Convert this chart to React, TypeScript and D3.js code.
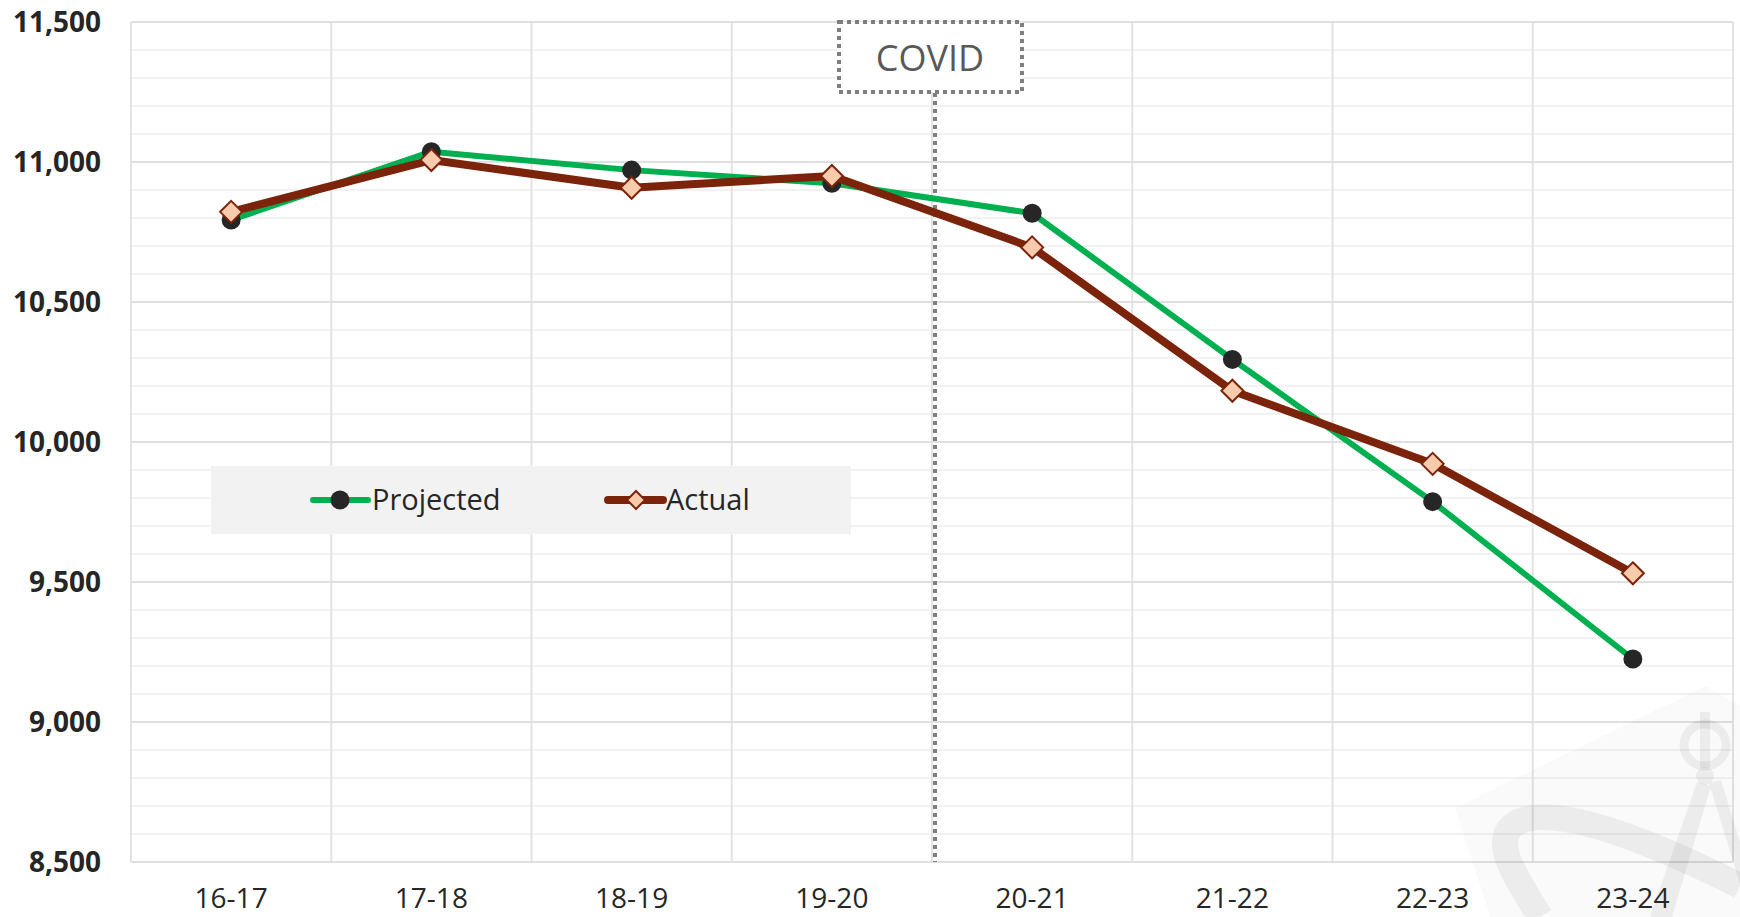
import { useEffect, useRef } from "react";
import * as d3 from "d3";

const years = ["16-17", "17-18", "18-19", "19-20", "20-21", "21-22", "22-23", "23-24"];
const projected = [10793, 11037, 10971, 10924, 10817, 10295, 9787, 9225];
const actual = [10822, 11007, 10908, 10950, 10695, 10183, 9922, 9531];
const yTicks = [8500, 9000, 9500, 10000, 10500, 11000, 11500];
const covidLabel = "COVID";
const covidAfter = "19-20";

const App = () => {
  const ref = useRef<SVGSVGElement>(null);

  useEffect(() => {
    document.body.style.margin = "0";
    const svg = d3.select(ref.current);
    svg.selectAll("*").remove();

    const width = 1740;
    const height = 917;
    const left = 131, right = 1733, top = 22, bottom = 862;
    const font = "'Open Sans', 'Noto Sans', sans-serif";

    svg.attr("width", width).attr("height", height);

    const x = d3.scaleBand().domain(years).range([left, right]);
    const y = d3.scaleLinear().domain([8500, 11500]).range([bottom, top]);

    const grid = svg.append("g");
    // minor horizontals
    grid.selectAll()
      .data(d3.range(8600, 11500, 100).filter((v) => v % 500 !== 0))
      .join("line")
      .attr("x1", left).attr("x2", right)
      .attr("y1", (d) => y(d)).attr("y2", (d) => y(d))
      .attr("stroke", "#f2f2f2").attr("stroke-width", 2);
    // vertical separators
    grid.selectAll()
      .data([...years.map((d) => x(d)!), right])
      .join("line")
      .attr("x1", (d) => d).attr("x2", (d) => d)
      .attr("y1", top).attr("y2", bottom)
      .attr("stroke", "#e3e3e3").attr("stroke-width", 2);
    // major horizontals
    grid.selectAll()
      .data(yTicks)
      .join("line")
      .attr("x1", left).attr("x2", right)
      .attr("y1", (d) => y(d)).attr("y2", (d) => y(d))
      .attr("stroke", "#e0e0e0").attr("stroke-width", 2);

    // faint watermark, semi transparent so the grid shows through
    const wm = svg.append("g");
    wm.append("path")
      .attr("d", "M1455,808 L1705,686 L1740,705 L1740,917 L1490,917 Z")
      .attr("fill", "#000").attr("fill-opacity", 0.018);
    const wmInk = wm.append("g").attr("fill", "none").attr("stroke", "#000").attr("stroke-opacity", 0.055);
    wmInk.append("path")
      .attr("d", "M1540,917 C1518,880 1492,845 1512,826 C1540,802 1625,828 1740,886")
      .attr("stroke-width", 26);
    wmInk.append("circle").attr("cx", 1705).attr("cy", 745).attr("r", 21).attr("stroke-width", 9);
    wmInk.append("line").attr("x1", 1705).attr("x2", 1705).attr("y1", 712).attr("y2", 768).attr("stroke-width", 10);
    wm.append("circle").attr("cx", 1705).attr("cy", 776).attr("r", 9)
      .attr("fill", "#000").attr("fill-opacity", 0.055);
    wm.append("path")
      .attr("d", "M1697,782 L1711,786 L1672,917 L1650,917 Z M1709,783 L1721,780 L1740,842 L1740,884 Z")
      .attr("fill", "#000").attr("fill-opacity", 0.055);

    // y labels
    svg.append("g")
      .attr("font-family", font).attr("font-size", 28).attr("font-weight", "bold")
      .attr("fill", "#262626").attr("text-anchor", "end")
      .selectAll()
      .data(yTicks)
      .join("text")
      .attr("x", 101).attr("y", (d) => y(d)).attr("dy", "0.35em")
      .text((d) => d3.format(",")(d));

    // x labels
    svg.append("g")
      .attr("font-family", font).attr("font-size", 28)
      .attr("fill", "#262626").attr("text-anchor", "middle")
      .selectAll()
      .data(years)
      .join("text")
      .attr("x", (d) => x(d)! + x.bandwidth() / 2).attr("y", 908)
      .text((d) => d);

    // covid marker
    const cx = x(covidAfter)! + x.bandwidth() + 3;
    svg.append("line")
      .attr("x1", cx).attr("x2", cx).attr("y1", 93).attr("y2", bottom)
      .attr("stroke", "#7f7f7f").attr("stroke-width", 4).attr("stroke-dasharray", "4,4");
    svg.append("rect")
      .attr("x", 839).attr("y", 22).attr("width", 183).attr("height", 70)
      .attr("fill", "white").attr("stroke", "#7f7f7f").attr("stroke-width", 4)
      .attr("stroke-dasharray", "4,4");
    svg.append("text")
      .attr("x", 930).attr("y", 58).attr("dy", "0.35em")
      .attr("text-anchor", "middle").attr("font-family", font).attr("font-size", 36)
      .attr("fill", "#595959").text(covidLabel);

    const cxp = (i: number) => x(years[i])! + x.bandwidth() / 2;
    const line = d3.line<number>().x((_, i) => cxp(i)).y((d) => y(d));

    svg.append("path").datum(projected)
      .attr("d", line).attr("fill", "none")
      .attr("stroke", "#00b050").attr("stroke-width", 6).attr("stroke-linejoin", "round");
    svg.append("g").selectAll().data(projected).join("circle")
      .attr("cx", (_, i) => cxp(i)).attr("cy", (d) => y(d)).attr("r", 9.5)
      .attr("fill", "#262626");

    svg.append("path").datum(actual)
      .attr("d", line).attr("fill", "none")
      .attr("stroke", "#7b230b").attr("stroke-width", 8).attr("stroke-linejoin", "round");
    const diamond = (cxv: number, cyv: number, r: number) =>
      `M${cxv},${cyv - r}L${cxv + r},${cyv}L${cxv},${cyv + r}L${cxv - r},${cyv}Z`;
    svg.append("g").selectAll().data(actual).join("path")
      .attr("d", (d, i) => diamond(cxp(i), y(d), 11))
      .attr("fill", "#f8cbad").attr("stroke", "#7b230b").attr("stroke-width", 2);

    // legend
    const lg = svg.append("g");
    lg.append("rect").attr("x", 211).attr("y", 466).attr("width", 640).attr("height", 68).attr("fill", "#f2f2f2");
    const ly = 500;
    lg.append("line").attr("x1", 313).attr("x2", 368).attr("y1", ly).attr("y2", ly)
      .attr("stroke", "#00b050").attr("stroke-width", 6).attr("stroke-linecap", "round");
    lg.append("circle").attr("cx", 340).attr("cy", ly).attr("r", 9.5).attr("fill", "#262626");
    lg.append("text").attr("x", 372).attr("y", ly).attr("dy", "0.33em")
      .attr("font-family", font).attr("font-size", 29).attr("fill", "#262626").text("Projected");
    lg.append("line").attr("x1", 608).attr("x2", 663).attr("y1", ly).attr("y2", ly)
      .attr("stroke", "#7b230b").attr("stroke-width", 8).attr("stroke-linecap", "round");
    lg.append("path").attr("d", diamond(636, ly, 9))
      .attr("fill", "#f8cbad").attr("stroke", "#7b230b").attr("stroke-width", 2);
    lg.append("text").attr("x", 666).attr("y", ly).attr("dy", "0.33em")
      .attr("font-family", font).attr("font-size", 29).attr("fill", "#262626").text("Actual");
  }, []);

  return <svg ref={ref} style={{ display: "block" }}></svg>;
};

export default App;
